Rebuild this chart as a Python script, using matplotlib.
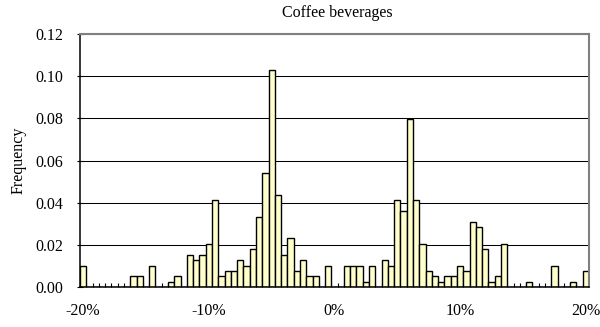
import numpy as np
import matplotlib
matplotlib.use('Agg')
import matplotlib.pyplot as plt

# histogram of price changes, 0.5% bins from -20% to 20%
bin_centers = np.arange(-20, 20.5, 0.5)
counts = [4, 0, 0, 0, 0, 0, 0, 0, 2, 2,
          0, 4, 0, 0, 1, 2, 0, 6, 5, 6,
          8, 16, 2, 3, 3, 5, 4, 7, 13, 21,
          40, 17, 6, 9, 3, 5, 2, 2, 0, 4,
          0, 0, 4, 4, 4, 1, 4, 0, 5, 4,
          16, 14, 31, 16, 8, 3, 2, 1, 2, 2,
          4, 3, 12, 11, 7, 1, 2, 8, 0, 0,
          0, 1, 0, 0, 0, 4, 0, 0, 1, 0,
          3]
n_obs = 388
freq = np.array(counts) / n_obs

x_ticks = [-20, -10, 0, 10, 20]
x_labels = ['-20%', '-10%', '0%', '10%', '20%']
y_ticks = [0.0, 0.02, 0.04, 0.06, 0.08, 0.10, 0.12]

plt.rcParams['font.family'] = ['Liberation Serif', 'DejaVu Serif']
fs = 11.5

fig = plt.figure(figsize=(6, 3.27), dpi=100)
ax = fig.add_axes([80 / 600, 1 - 287.3 / 327, 509 / 600, 253.3 / 327])

ax.bar(bin_centers, freq, width=0.5, color='#FFFFCC', edgecolor='black', linewidth=1.0, zorder=2)

ax.set_xlim(-20.25, 20.25)
ax.set_ylim(0, 0.12)
ax.set_yticks(y_ticks)
ax.set_yticklabels([f'{v:.2f}' for v in y_ticks], fontsize=fs)
ax.set_xticks(x_ticks)
ax.set_xticklabels(x_labels, fontsize=fs)
ax.set_xticks(np.arange(-19.75, 20.25, 0.5), minor=True)

ax.tick_params(axis='x', which='major', length=0, pad=11)
ax.tick_params(axis='x', which='minor', direction='in', length=3, width=0.8, color='black')
ax.tick_params(axis='y', which='major', direction='inout', length=5, width=0.8, pad=9.5)

ax.yaxis.grid(True, color='black', linewidth=0.75)
ax.set_axisbelow(True)

for side in ['left', 'bottom']:
    ax.spines[side].set_color('black')
    ax.spines[side].set_linewidth(1.1)
for side in ['top', 'right']:
    ax.spines[side].set_color('#808080')
    ax.spines[side].set_linewidth(1.5)

ax.set_ylabel('Frequency', fontsize=fs)
ax.yaxis.set_label_coords(-0.104, 0.5)
fig.text(337.5 / 600, 1 - 13 / 327, 'Coffee beverages', fontsize=fs, ha='center', va='center')

plt.savefig('out.png', dpi=100)
plt.close()
